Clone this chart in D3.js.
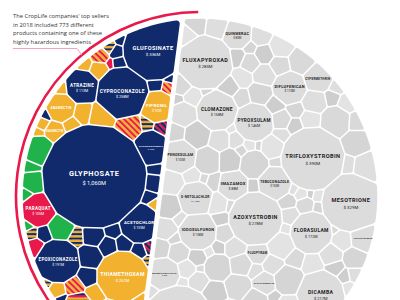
<!DOCTYPE html>
<html>
<head>
<meta charset="utf-8">
<script src="https://cdn.jsdelivr.net/npm/d3@7"></script>
<style>
  body { margin: 0; background: #fff; }
  svg { display: block; }
</style>
</head>
<body>
<div id="chart"></div>
<script>
const width = 400, height = 300;

// ---- data, $ million ----
// coloured segment: products with a highly hazardous ingredient
const hhpNames   = ["GLYPHOSATE", "DIFENOCONAZOLE", "CYPROCONAZOLE", "ATRAZINE", "ABAMECTIN", "EMAMECTIN",
                    "PARAQUAT", "EPOXICONAZOLE", "LAMBDA-CYHALOTHRIN", "SPINETORAM", "THIAMETHOXAM",
                    "ACETOCHLOR", "FIPRONIL", "GLUFOSINATE"];
const hhpValues  = [1060, 104, 258, 113, 80, 40, 105, 191, 85, 30, 262, 133, 92, 336];
const hhpHazard  = ["C", "C", "C", "C", "B", "B", "A", "C", "ABC", "B", "B", "C", "B", "C"];
const hhpPrinted = [1, 1, 1, 1, 0, 0, 1, 1, 0, 0, 1, 1, 1, 1];   // value shown under the name

// unlabelled coloured cells
const hhpRestValues = [45, 60, 60, 70, 40, 55, 35, 60, 35, 40, 30, 30, 28, 50, 20, 35, 25, 25, 30, 30,
                       20, 25, 25, 22, 20, 220, 22, 20, 18, 20, 20, 15, 16, 12, 15, 16, 14, 14, 12, 12,
                       12, 12, 12, 12, 25, 10, 10, 10, 10, 8, 8, 8, 8, 9, 7, 6];
const hhpRestHazard = ["C", "AB", "C", "E", "C", "B", "C", "E", "AB", "B", "C", "CB", "C", "E", "CB", "B", "C", "C", "B", "EB",
                       "AC", "B", "AB", "C", "C", "E", "B", "C", "C", "B", "E", "AB", "B", "AC", "CB", "C", "B", "C", "C", "CB",
                       "E", "C", "A", "B", "A", "C", "AB", "B", "C", "A", "CB", "E", "B", "C", "B", "CB"];

// grey segment: everything else
const otherNames   = ["AZOXYSTROBIN", "FLUOPYRAM", "IMAZAMOX", "TEBUCONAZOLE", "DIFLUFENZOPYR", "IODOSULFURON",
                      "PYROXSULAM", "FLORASULAM", "BIXAFEN", "CLOMAZONE", "TRIFLOXYSTROBIN", "METCONAZOLE",
                      "S-METOLACHLOR", "DIFLUFENICAN", "DICAMBA", "PROTHIOCONAZOLE", "FLUXAPYROXAD", "MESOTRIONE",
                      "BENTAZONE", "PENOXSULAM", "CYPERMETHRIN", "FOMESAFEN", "BENZOVINDIFLUPYR", "QUINMERAC",
                      "SULFENTRAZONE"];
const otherValues  = [278, 45, 88, 103, 50, 138, 146, 172, 114, 158, 390, 130, 115, 110, 217, 480, 285, 329,
                      35, 103, 75, 55, 95, 80, 60];
const otherPrinted = [1, 0, 1, 1, 0, 1, 1, 1, 1, 1, 1, 1, 1, 1, 1, 1, 1, 1, 0, 1, 0, 0, 1, 1, 0];

const otherRestValues = [42, 18, 65, 9, 27, 55, 12, 33, 80, 21, 15, 48, 7, 38, 24, 70, 11, 30, 19, 52,
                         26, 9, 60, 14, 35, 22, 44, 8, 29, 75, 17, 40, 13, 58, 25, 10, 36, 20, 47, 6,
                         31, 85, 16, 23, 50, 12, 39, 28, 62, 9, 19, 34, 45, 7, 27, 68, 14, 24, 53, 11,
                         37, 21, 8, 44, 30, 16, 72, 25, 10, 41, 13, 57, 22, 32, 6, 48, 18, 28, 90, 15,
                         26, 11, 38, 20, 63, 9, 33, 17, 46, 24, 29, 52, 12, 35, 19, 78, 8, 27, 14, 43,
                         22, 10, 40, 31, 15, 56, 26, 7, 36, 18, 49, 13, 30, 66, 21, 9, 34, 16, 44, 25,
                         12, 38, 20, 55, 28, 11, 47, 17, 32, 60];

const introLines = ["The CropLife companies' top sellers",
                    "in 2018 included 773 different",
                    "products containing one of these",
                    "highly hazardous ingredients"];

// ---- styles ----
const navy = "#102a6c", yellow = "#f2b22f", green = "#20b34b", red = "#e8194b";
const greys = ["#d5d5d5", "#dedede", "#cecece", "#e3e3e3", "#d9d9d9"];
const hazardFill = {C: navy, B: yellow, E: green, A: red,
                    AB: "url(#pAB)", CB: "url(#pCB)", ABC: "url(#pABC)", EB: "url(#pEB)", AC: "url(#pAC)"};

const svg = d3.select("#chart").append("svg")
    .attr("width", width)
    .attr("height", height);

const defs = svg.append("defs");
function stripes(id, cols, size, angle) {
    const p = defs.append("pattern")
        .attr("id", id)
        .attr("patternUnits", "userSpaceOnUse")
        .attr("width", 8).attr("height", size * cols.length)
        .attr("patternTransform", "rotate(" + angle + ")");
    cols.forEach((c, i) => p.append("rect").attr("x", 0).attr("y", i * size)
        .attr("width", 8).attr("height", size).attr("fill", c));
}
stripes("pAB", [red, yellow], 2.2, 45);
stripes("pAC", [red, navy], 2.2, 45);
stripes("pCB", [navy, yellow], 2.2, 0);
stripes("pEB", [green, yellow], 2.4, 0);
stripes("pABC", [red, yellow, navy], 2.4, 0);

// ---- geometry of the big disc ----
const C = [200, 196], R = 178;
const tilt = 7.4 * Math.PI / 180;
const nrm = [Math.cos(tilt), Math.sin(tilt)];      // points from coloured to grey side
const tan = [-Math.sin(tilt), Math.cos(tilt)];
const halfGap = 1.6;

// chord distance so that coloured segment area matches its share of the total
const hhpTotal = d3.sum(hhpValues) + d3.sum(hhpRestValues);
const otherTotal = d3.sum(otherValues) + d3.sum(otherRestValues);
const share = hhpTotal / (hhpTotal + otherTotal);
function segFrac(d) { return (R * R * Math.acos(d / R) - d * Math.sqrt(R * R - d * d)) / (Math.PI * R * R); }
let lo = 0, hi = R;
for (let k = 0; k < 60; k++) { const m = (lo + hi) / 2; if (segFrac(m) > share) lo = m; else hi = m; }
const dChord = (lo + hi) / 2;

// keep points with (p - o)·(nx,ny) <= c
function clip(poly, ox, oy, nx, ny, c) {
    const out = [];
    const L = poly.length;
    for (let k = 0; k < L; k++) {
        const p = poly[k], q = poly[(k + 1) % L];
        const fp = (p[0] - ox) * nx + (p[1] - oy) * ny - c;
        const fq = (q[0] - ox) * nx + (q[1] - oy) * ny - c;
        if (fp <= 0) out.push(p);
        if ((fp <= 0) !== (fq <= 0)) {
            const s = fp / (fp - fq);
            out.push([p[0] + s * (q[0] - p[0]), p[1] + s * (q[1] - p[1])]);
        }
    }
    return out;
}

function regionPoly(side, inset) {
    const k = 150, r = R - inset;
    const circ = d3.range(k).map(i => {
        const a = i / k * 2 * Math.PI;
        return [C[0] + r * Math.cos(a), C[1] + r * Math.sin(a)];
    });
    if (side < 0) return clip(circ, C[0], C[1], nrm[0], nrm[1], -dChord - halfGap - inset);
    return clip(circ, C[0], C[1], -nrm[0], -nrm[1], dChord - halfGap - inset);
}

function maxDist(poly, s) {
    let m = 0;
    for (const p of poly) { const dd = Math.hypot(p[0] - s.x, p[1] - s.y); if (dd > m) m = dd; }
    return m;
}

// power diagram cell of site i inside poly, shrunk by inset
function cellOf(i, sites, poly, inset) {
    const si = sites[i];
    let rho = maxDist(poly, si);
    for (let j = 0; j < sites.length; j++) {
        if (j === i) continue;
        const sj = sites[j];
        const ax = sj.x - si.x, ay = sj.y - si.y;
        const D = Math.hypot(ax, ay);
        if (!(D > 1e-6)) continue;
        const c = (D * D + si.w - sj.w) / (2 * D) - inset;
        if (!isFinite(c) || c >= rho) continue;
        poly = clip(poly, si.x, si.y, ax / D, ay / D, c);
        if (poly.length < 3) return [];
        rho = maxDist(poly, si);
    }
    return poly;
}

function fixOverweighted(sites) {
    for (let pass = 0; pass < 3; pass++) {
        for (let i = 0; i < sites.length; i++) {
            for (let j = i + 1; j < sites.length; j++) {
                const a = sites[i], b = sites[j];
                const d2 = (a.x - b.x) ** 2 + (a.y - b.y) ** 2;
                const heavy = a.w > b.w ? a : b, light = a.w > b.w ? b : a;
                if (d2 < heavy.w - light.w) light.w = heavy.w - d2 + 1e-3;
            }
        }
    }
}

function interleave(big, rest, every) {
    const out = [];
    let r = 0;
    big.forEach(b => {
        out.push(b);
        for (let k = 0; k < every && r < rest.length; k++) out.push(rest[r++]);
    });
    while (r < rest.length) out.push(rest[r++]);
    return out;
}

function keepInside(s, side, r) {
    const dx = s.x - C[0], dy = s.y - C[1];
    const lim = Math.max(2, R - r);
    const dist = Math.hypot(dx, dy);
    if (dist > lim) { s.x = C[0] + dx * lim / dist; s.y = C[1] + dy * lim / dist; }
    const u = (s.x - C[0]) * nrm[0] + (s.y - C[1]) * nrm[1];
    if (side < 0 && u > -dChord - r) { const du = u + dChord + r; s.x -= du * nrm[0]; s.y -= du * nrm[1]; }
    if (side > 0 && u < -dChord + r) { const du = -dChord + r - u; s.x += du * nrm[0]; s.y += du * nrm[1]; }
}

// voronoi treemap: seeds on a sunflower spiral (radius from the running total),
// relaxed with collision forces, then weighted Lloyd iterations to match areas
function voronoiTreemap(items, side, iters) {
    const region = regionPoly(side, 0);
    const area = Math.abs(d3.polygonArea(region));
    const total = d3.sum(items, d => d.value);
    const u0 = side < 0 ? (-R - dChord) / 2 : (R - dChord) / 2;
    const hu = (side < 0 ? (R - dChord) / 2 : (R + dChord) / 2) * 0.9;
    const hv = (side < 0 ? Math.sqrt(R * R - dChord * dChord) : R) * 0.9;
    const golden = Math.PI * (3 - Math.sqrt(5));
    let run = 0;
    const sites = items.map((d, k) => {
        const rho = Math.sqrt(run / total);
        run += d.value;
        const u = u0 + rho * Math.cos(k * golden) * hu, v = rho * Math.sin(k * golden) * hv;
        const target = d.value / total * area;
        const s = {
            data: d,
            target: target,
            r: Math.sqrt(target / Math.PI) * 0.9,
            x: C[0] + u * nrm[0] + v * tan[0],
            y: C[1] + u * nrm[1] + v * tan[1]
        };
        keepInside(s, side, s.r * 0.8);
        s.ax = s.x; s.ay = s.y;
        return s;
    });
    const sim = d3.forceSimulation(sites)
        .force("collide", d3.forceCollide(d => d.r).strength(0.9).iterations(3))
        .force("x", d3.forceX(d => d.ax).strength(0.04))
        .force("y", d3.forceY(d => d.ay).strength(0.04))
        .stop();
    for (let k = 0; k < 300; k++) {
        sim.tick();
        sites.forEach(s => keepInside(s, side, s.r * 0.85));
    }
    sites.forEach(s => { s.w = s.r * s.r * 0.9; });
    fixOverweighted(sites);
    for (let k = 0; k < iters; k++) {
        const f = k < iters * 0.6 ? 0.3 : 0.1;
        const cells = sites.map((s, i) => cellOf(i, sites, region, 0));
        cells.forEach((c, i) => {
            const s = sites[i];
            const a = c.length > 2 ? Math.abs(d3.polygonArea(c)) : 0;
            if (a > 0.05) {
                const ct = d3.polygonCentroid(c);
                if (isFinite(ct[0]) && isFinite(ct[1]) && Math.hypot(ct[0] - C[0], ct[1] - C[1]) < R) {
                    s.x = ct[0]; s.y = ct[1];
                }
            }
            let ratio = a > 0.05 ? s.target / a : 1 + f;
            ratio = Math.max(1 - f, Math.min(1 + f, ratio));
            s.w = Math.min(Math.max(s.w * ratio, 1e-3), 4 * R * R);
            if (!isFinite(s.w)) s.w = s.r * s.r;
        });
        fixOverweighted(sites);
    }
    // final shapes, shrunk for white gaps and rounded corners
    return sites.map((s, i) => {
        const raw = cellOf(i, sites, region, 0);
        const a = raw.length > 2 ? Math.abs(d3.polygonArea(raw)) : 0;
        const round = Math.max(0.5, Math.min(3.4, Math.sqrt(a) / 11));
        let poly = cellOf(i, sites, regionPoly(side, 0.75 + round), 0.75 + round);
        let sw = 2 * round;
        if (poly.length < 3 || Math.abs(d3.polygonArea(poly)) < 1) {
            poly = cellOf(i, sites, regionPoly(side, 0.75), 0.75);
            sw = 0;
        }
        return {data: s.data, poly: poly, raw: raw, stroke: sw};
    });
}

// ---- build items ----
const hhpBig = hhpNames.map((n, i) => ({name: n, value: hhpValues[i], hazard: hhpHazard[i], printed: hhpPrinted[i]}));
const hhpRest = hhpRestValues.map((v, i) => ({name: "", value: v, hazard: hhpRestHazard[i]}));
const hhpItems = interleave(hhpBig, hhpRest, 4);

const otherBig = otherNames.map((n, i) => ({name: n, value: otherValues[i], printed: otherPrinted[i]}));
const otherRest = otherRestValues.map(v => ({name: "", value: v}));
const otherItems = interleave(otherBig, otherRest, 5);

const hhpCells = voronoiTreemap(hhpItems, -1, 150);
const otherCells = voronoiTreemap(otherItems, 1, 150);

const line = pts => "M" + pts.map(p => p[0].toFixed(2) + "," + p[1].toFixed(2)).join("L") + "Z";

svg.append("g").selectAll("path")
    .data(otherCells.filter(c => c.poly.length > 2))
    .join("path")
    .attr("d", c => line(c.poly))
    .attr("fill", (c, i) => c.data.name ? "#dcdcdc" : greys[i % greys.length])
    .attr("stroke", (c, i) => c.data.name ? "#dcdcdc" : greys[i % greys.length])
    .attr("stroke-width", c => c.stroke)
    .attr("stroke-linejoin", "round");

svg.append("g").selectAll("path")
    .data(hhpCells.filter(c => c.poly.length > 2))
    .join("path")
    .attr("d", c => line(c.poly))
    .attr("fill", c => hazardFill[c.data.hazard])
    .attr("stroke", c => hazardFill[c.data.hazard])
    .attr("stroke-width", c => c.stroke)
    .attr("stroke-linejoin", "round");

// ---- labels ----
const fontSize = d3.scalePow().exponent(0.35).domain([0, 1100]).range([2.2, 7.4]);
const fmt = d3.format(",d");

function widthAt(poly, y) {
    const xs = [];
    for (let k = 0; k < poly.length; k++) {
        const p = poly[k], q = poly[(k + 1) % poly.length];
        if ((p[1] - y) * (q[1] - y) <= 0 && p[1] !== q[1]) xs.push(p[0] + (y - p[1]) / (q[1] - p[1]) * (q[0] - p[0]));
    }
    return xs.length > 1 ? d3.max(xs) - d3.min(xs) : 0;
}

function labels(cells, dark) {
    const g = svg.append("g").attr("font-family", "Roboto, 'Open Sans', sans-serif").attr("text-anchor", "middle");
    cells.filter(c => c.data.name && c.poly.length > 2).forEach(c => {
        const cell = c.raw.length > 2 ? c.raw : c.poly;
        const ct = d3.polygonCentroid(cell);
        let fs = fontSize(c.data.value) * (c.data.printed ? 1 : 0.78);
        const striped = c.data.hazard && c.data.hazard.length > 1;
        const col = dark || striped ? "#222" : "#fff";
        const t = g.append("text")
            .attr("x", ct[0])
            .attr("font-weight", 700)
            .attr("fill", col)
            .text(c.data.name);
        const fit = () => t.attr("font-size", fs.toFixed(2)).attr("letter-spacing", (fs * 0.07).toFixed(2));
        fit();
        const room = 0.88 * Math.min(widthAt(cell, ct[1] - fs * 0.4), widthAt(cell, ct[1] + fs * 0.4));
        const len = t.node().getComputedTextLength();
        if (room > 0 && len > room) { fs = Math.max(1.8, fs * room / len); fit(); }
        const ny = c.data.printed ? ct[1] - fs * 0.05 : ct[1] + fs * 0.35;
        t.attr("y", ny);
        if (striped) {
            const b = t.node().getBBox();
            g.insert("rect", () => t.node())
                .attr("x", b.x - 1).attr("y", b.y - 0.6)
                .attr("width", b.width + 2).attr("height", b.height + 1.2)
                .attr("fill", "#fff");
        }
        if (c.data.printed) {
            g.append("text")
                .attr("x", ct[0]).attr("y", ny + fs * 1.15)
                .attr("font-size", Math.max(1.6, fs * 0.78).toFixed(2))
                .attr("fill", col)
                .text("$ " + fmt(c.data.value) + "M");
        }
    });
}
labels(otherCells, true);
labels(hhpCells, false);

// ---- red arc around the coloured segment ----
const dir = Math.atan2(-nrm[1], -nrm[0]);
const half = Math.acos(dChord / R) + 5 * Math.PI / 180;
const arc = d3.path();
arc.arc(C[0], C[1], R + 6, dir - half, dir + half);
svg.append("path")
    .attr("d", arc.toString())
    .attr("fill", "none")
    .attr("stroke", red)
    .attr("stroke-width", 2.6);

// ---- intro note ----
const note = svg.append("g");
note.append("text")
    .attr("font-family", "'Open Sans', sans-serif")
    .attr("font-size", 5.8)
    .attr("fill", "#333")
    .selectAll("tspan")
    .data(introLines)
    .join("tspan")
    .attr("x", 13)
    .attr("y", (d, i) => 18 + i * 8.7)
    .text(d => d);

const hook = 230 * Math.PI / 180;
note.append("path")
    .attr("d", "M13,48.5L77,48.5L" + (C[0] + (R + 6) * Math.cos(hook)).toFixed(1) + "," + (C[1] + (R + 6) * Math.sin(hook)).toFixed(1))
    .attr("fill", "none")
    .attr("stroke", "#f4a3b8")
    .attr("stroke-width", 1);
</script>
</body>
</html>
